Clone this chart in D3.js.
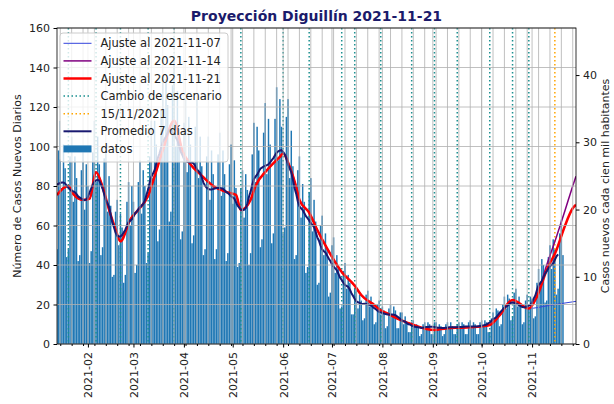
<!DOCTYPE html>
<html>
<head>
<meta charset="utf-8">
<script src="https://cdn.jsdelivr.net/npm/d3@7"></script>
<style>
  body { margin: 0; background: #fff; }
  svg text { font-family: "DejaVu Sans", sans-serif; }
</style>
</head>
<body>
<div id="chart"></div>
<script>
// Proyección Diguillín - casos diarios, promedio 7 días y ajustes

const inicioDatos = '2021-01-10';
const casosDiarios = [
  98, 86, 43, 48, 98, 113, 79,
  101, 89, 44, 48, 95, 105, 72,
  95, 84, 42, 45, 88, 97, 68,
  91, 80, 41, 47, 97, 113, 82,
  105, 91, 45, 49, 94, 100, 67,
  85, 70, 34, 35, 67, 73, 50,
  66, 59, 31, 35, 72, 82, 60,
  80, 72, 36, 40, 82, 93, 66,
  88, 80, 41, 46, 95, 113, 84,
  113, 101, 52, 58, 118, 134, 99,
  134, 121, 62, 67, 131, 144, 100,
  128, 109, 53, 57, 112, 124, 87,
  115, 101, 51, 55, 110, 124, 84,
  105, 90, 45, 48, 95, 105, 73,
  98, 86, 43, 48, 96, 107, 75,
  98, 86, 42, 46, 91, 101, 71,
  93, 79, 39, 41, 79, 88, 64,
  86, 78, 40, 46, 96, 112, 82,
  110, 98, 49, 53, 107, 122, 86,
  114, 101, 51, 56, 114, 130, 93,
  124, 110, 56, 59, 115, 124, 84,
  108, 90, 43, 45, 88, 95, 64,
  81, 72, 36, 39, 77, 84, 57,
  73, 62, 30, 31, 60, 65, 45,
  56, 48, 24, 26, 50, 54, 36,
  45, 39, 18, 19, 37, 41, 28,
  35, 31, 15, 15, 28, 28, 18,
  25, 22, 12, 13, 25, 27, 19,
  24, 21, 10, 11, 20, 22, 15,
  19, 17, 8, 9, 18, 20, 14,
  19, 17, 8, 8, 16, 16, 10,
  14, 11, 6, 6, 11, 12, 9,
  10, 9, 4, 5, 10, 11, 8,
  11, 10, 5, 5, 11, 11, 8,
  10, 9, 4, 5, 10, 11, 8,
  11, 9, 5, 5, 10, 11, 8,
  11, 10, 5, 5, 11, 12, 8,
  11, 10, 5, 5, 11, 12, 9,
  12, 11, 6, 6, 13, 16, 12,
  18, 17, 9, 10, 20, 24, 18,
  25, 23, 12, 14, 26, 28, 19,
  24, 20, 10, 11, 22, 25, 18,
  24, 23, 13, 14, 31, 38, 29,
  43, 40, 21, 22, 44, 50, 38,
  53, 48, 25, 28, 56, 63, 45
];

// tramo común de los tres ajustes (hasta el último cambio de escenario)
const ajusteBaseFechas = [
  '2021-01-13', '2021-01-17', '2021-01-20', '2021-01-23', '2021-01-29', '2021-02-02',
  '2021-02-06', '2021-02-10', '2021-02-14', '2021-02-18', '2021-02-21', '2021-02-27',
  '2021-03-04', '2021-03-10', '2021-03-14', '2021-03-19', '2021-03-26', '2021-03-31',
  '2021-04-05', '2021-04-11', '2021-04-19', '2021-04-27', '2021-05-03', '2021-05-06',
  '2021-05-12', '2021-05-15', '2021-05-22', '2021-05-30', '2021-06-01', '2021-06-05',
  '2021-06-09', '2021-06-11', '2021-06-17', '2021-06-22', '2021-06-28', '2021-07-07',
  '2021-07-15', '2021-07-19', '2021-07-27', '2021-07-31', '2021-08-04', '2021-08-12',
  '2021-08-19', '2021-08-28', '2021-09-02', '2021-09-09', '2021-09-16', '2021-09-21',
  '2021-09-30', '2021-10-06', '2021-10-12', '2021-10-20', '2021-10-30'
];
const ajusteBaseValores = [
  75.4, 79, 80, 76, 73, 73.5,
  87, 79.6, 68, 58, 52, 63,
  68, 75, 85, 98, 113, 98,
  91, 86, 80, 77, 75.5, 67.8,
  73, 80, 88, 94.8, 96.5, 89.8,
  79.6, 73, 66.5, 57.7, 48.4, 36.5,
  29.5, 24.8, 19.7, 17, 15.5, 12.2,
  10, 7.6, 7.1, 7.9, 8.2, 8.3,
  8.8, 9.6, 14.5, 22.3, 18
];

// tramo final de cada ajuste
const cola07Fechas = ['2021-11-10', '2021-11-20', '2021-11-28'];
const cola07Valores = [19.3, 20.6, 21.6];
const cola14Fechas = ['2021-11-04', '2021-11-10', '2021-11-16', '2021-11-21', '2021-11-26', '2021-11-28'];
const cola14Valores = [24.5, 40, 54.3, 67, 80, 85];
const cola21Fechas = ['2021-11-04', '2021-11-10', '2021-11-16', '2021-11-21', '2021-11-26', '2021-11-28'];
const cola21Valores = [24, 37.5, 47.6, 59.4, 68.7, 70.5];

const cambiosEscenario = [
  '2021-01-20', '2021-02-06', '2021-02-21', '2021-03-10', '2021-03-26', '2021-05-06',
  '2021-06-01', '2021-06-17', '2021-07-07', '2021-07-15', '2021-07-31', '2021-08-19',
  '2021-09-02', '2021-09-16', '2021-10-06', '2021-10-20', '2021-10-30'
];
const fechaReferencia = '2021-11-15';

const ticksMes = ['2021-02', '2021-03', '2021-04', '2021-05', '2021-06', '2021-07', '2021-08', '2021-09', '2021-10', '2021-11'];
const ticksIzq = [0, 20, 40, 60, 80, 100, 120, 140, 160];
const ticksDer = [0, 10, 20, 30, 40];
const etiquetasLeyenda = ['Ajuste al 2021-11-07', 'Ajuste al 2021-11-14', 'Ajuste al 2021-11-21',
  'Cambio de escenario', '15/11/2021', 'Promedio 7 días', 'datos'];

const W = 614, H = 404;
const m = { left: 57, right: 576, top: 28, bottom: 344 };
const parse = d3.timeParse('%Y-%m-%d');

const svg = d3.select('#chart').append('svg')
  .attr('width', W)
  .attr('height', H);

const x = d3.scaleTime()
  .domain([parse('2021-01-13'), parse('2021-11-28')])
  .range([m.left, m.right]);
const y = d3.scaleLinear().domain([0, 160]).range([m.bottom, m.top]);
const y2 = d3.scaleLinear().domain([0, 47]).range([m.bottom, m.top]);

svg.append('clipPath').attr('id', 'plot')
  .append('rect')
  .attr('x', m.left).attr('y', m.top)
  .attr('width', m.right - m.left).attr('height', m.bottom - m.top);

const plot = svg.append('g').attr('clip-path', 'url(#plot)');

const inicio = parse(inicioDatos);
const datos = casosDiarios.map((v, i) => ({ fecha: d3.timeDay.offset(inicio, i), valor: v }));

// barras
const dia = x(d3.timeDay.offset(inicio, 1)) - x(inicio);
plot.selectAll('.bar')
  .data(datos)
  .enter().append('rect')
  .attr('class', 'bar')
  .attr('x', d => x(d.fecha) - dia * 0.45)
  .attr('width', dia * 0.9)
  .attr('y', d => y(d.valor))
  .attr('height', d => y(0) - y(d.valor))
  .attr('fill', '#1f77b4');

// grilla (sobre las barras, bajo las líneas)
const viernes = d3.timeFriday.range(x.domain()[0], x.domain()[1]);
const meses = ticksMes.map(t => parse(t + '-01'));
const grid = svg.append('g').attr('stroke', '#b0b0b0').attr('stroke-width', 0.8);
grid.selectAll('.gx')
  .data(viernes.concat(meses))
  .enter().append('line')
  .attr('x1', d => x(d)).attr('x2', d => x(d))
  .attr('y1', m.top).attr('y2', m.bottom);
grid.selectAll('.gy')
  .data(ticksIzq)
  .enter().append('line')
  .attr('x1', m.left).attr('x2', m.right)
  .attr('y1', d => y(d)).attr('y2', d => y(d));

// cambios de escenario y fecha de referencia
plot.selectAll('.cambio')
  .data(cambiosEscenario)
  .enter().append('line')
  .attr('x1', d => x(parse(d))).attr('x2', d => x(parse(d)))
  .attr('y1', m.top).attr('y2', m.bottom)
  .attr('stroke', '#1a9090')
  .attr('stroke-width', 1.5)
  .attr('stroke-dasharray', '1.5,2.5');
plot.append('line')
  .attr('x1', x(parse(fechaReferencia))).attr('x2', x(parse(fechaReferencia)))
  .attr('y1', m.top).attr('y2', m.bottom)
  .attr('stroke', '#ffa500')
  .attr('stroke-width', 1.5)
  .attr('stroke-dasharray', '1.5,2.5');

// ajustes
const linea = d3.line()
  .x(d => x(d.fecha))
  .y(d => y(d.valor))
  .curve(d3.curveMonotoneX);
function serieAjuste(fechasCola, valoresCola) {
  const base = ajusteBaseFechas.map((f, i) => ({ fecha: parse(f), valor: ajusteBaseValores[i] }));
  return base.concat(fechasCola.map((f, i) => ({ fecha: parse(f), valor: valoresCola[i] })));
}
const ajustes = [
  { serie: serieAjuste(cola07Fechas, cola07Valores), color: '#3344dd', ancho: 1 },
  { serie: serieAjuste(cola14Fechas, cola14Valores), color: '#800080', ancho: 1.5 },
  { serie: serieAjuste(cola21Fechas, cola21Valores), color: '#ff0000', ancho: 2.5 }
];
ajustes.forEach(a => {
  plot.append('path')
    .datum(a.serie)
    .attr('d', linea)
    .attr('fill', 'none')
    .attr('stroke', a.color)
    .attr('stroke-width', a.ancho);
});

// promedio 7 días (centrado)
const promedio = [];
for (let i = 3; i < datos.length - 3; i++) {
  promedio.push({ fecha: datos[i].fecha, valor: d3.mean(datos.slice(i - 3, i + 4), d => d.valor) });
}
plot.append('path')
  .datum(promedio)
  .attr('d', d3.line().x(d => x(d.fecha)).y(d => y(d.valor)))
  .attr('fill', 'none')
  .attr('stroke', '#191970')
  .attr('stroke-width', 2);

// marco
svg.append('rect')
  .attr('x', m.left).attr('y', m.top)
  .attr('width', m.right - m.left).attr('height', m.bottom - m.top)
  .attr('fill', 'none')
  .attr('stroke', '#000')
  .attr('stroke-width', 0.8);

// Eje X
const ejeX = svg.append('g')
  .attr('transform', `translate(0,${m.bottom})`)
  .call(d3.axisBottom(x).tickValues(meses).tickFormat(d3.timeFormat('%Y-%m')).tickSize(3.5));
ejeX.select('.domain').remove();
ejeX.selectAll('text')
  .attr('transform', 'rotate(-90)')
  .attr('x', -8)
  .attr('y', 0)
  .attr('dy', '0.35em')
  .style('text-anchor', 'end')
  .style('font-size', '11px')
  .attr('fill', '#222');
const ejeXMenor = svg.append('g')
  .attr('transform', `translate(0,${m.bottom})`)
  .call(d3.axisBottom(x).tickValues(viernes).tickFormat('').tickSize(2));
ejeXMenor.select('.domain').remove();

// Eje Y izquierdo
const ejeY = svg.append('g')
  .attr('transform', `translate(${m.left},0)`)
  .call(d3.axisLeft(y).tickValues(ticksIzq).tickSize(3.5).tickPadding(3.5));
ejeY.select('.domain').remove();
ejeY.selectAll('text').style('font-size', '11px').attr('fill', '#222');

// Eje Y derecho
const ejeY2 = svg.append('g')
  .attr('transform', `translate(${m.right},0)`)
  .call(d3.axisRight(y2).tickValues(ticksDer).tickSize(3.5).tickPadding(3.5));
ejeY2.select('.domain').remove();
ejeY2.selectAll('text').style('font-size', '11px').attr('fill', '#222');

// Etiquetas de ejes
svg.append('text')
  .attr('transform', `translate(17,${(m.top + m.bottom) / 2}) rotate(-90)`)
  .attr('text-anchor', 'middle')
  .attr('dy', '0.35em')
  .style('font-size', '11px')
  .attr('fill', '#222')
  .text('Número de Casos Nuevos Diarios');
svg.append('text')
  .attr('transform', `translate(605,${(m.top + m.bottom) / 2}) rotate(-90)`)
  .attr('text-anchor', 'middle')
  .attr('dy', '0.35em')
  .style('font-size', '11px')
  .attr('fill', '#222')
  .text('Casos nuevos cada cien mil habitantes');

// Título
svg.append('text')
  .attr('x', (m.left + m.right) / 2)
  .attr('y', 21)
  .attr('text-anchor', 'middle')
  .style('font-size', '14px')
  .style('font-weight', 'bold')
  .attr('fill', '#1b1b6b')
  .text('Proyección Diguillín 2021-11-21');

// Leyenda
const leg = svg.append('g');
leg.append('rect')
  .attr('x', 60).attr('y', 33)
  .attr('width', 168).attr('height', 129)
  .attr('rx', 3)
  .attr('fill', '#fff')
  .attr('fill-opacity', 0.8)
  .attr('stroke', '#cccccc')
  .attr('stroke-width', 1);
const estilos = [
  { color: '#3344dd', ancho: 1 },
  { color: '#800080', ancho: 1.5 },
  { color: '#ff0000', ancho: 2.5 },
  { color: '#1a9090', ancho: 1.5, dash: '1.5,2.5' },
  { color: '#ffa500', ancho: 1.5, dash: '1.5,2.5' },
  { color: '#191970', ancho: 2 },
  { color: '#1f77b4', barra: true }
];
etiquetasLeyenda.forEach((t, i) => {
  const cy = 43.3 + i * 17.6;
  const s = estilos[i];
  if (s.barra) {
    leg.append('rect')
      .attr('x', 63.5).attr('y', cy - 3.5)
      .attr('width', 28).attr('height', 7)
      .attr('fill', s.color);
  } else {
    leg.append('line')
      .attr('x1', 63.5).attr('x2', 91.5)
      .attr('y1', cy).attr('y2', cy)
      .attr('stroke', s.color)
      .attr('stroke-width', s.ancho)
      .attr('stroke-dasharray', s.dash || null);
  }
  leg.append('text')
    .attr('x', 100.5)
    .attr('y', cy)
    .attr('dy', '0.36em')
    .style('font-size', '11.5px')
    .attr('fill', '#222')
    .text(t);
});
</script>
</body>
</html>
